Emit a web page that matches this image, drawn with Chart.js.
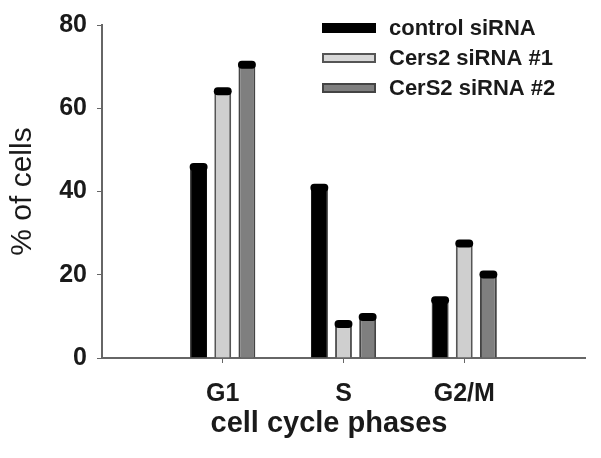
<!DOCTYPE html>
<html>
<head>
<meta charset="utf-8">
<script src="https://cdn.jsdelivr.net/npm/chart.js@4"></script>
<style>
  html, body { margin: 0; padding: 0; background: #fff; }
  #wrap { width: 601px; height: 458px; }
</style>
</head>
<body>
<div id="wrap"><canvas id="grafico"></canvas></div>
<script>
const phases = ["G1", "S", "G2/M"];
const controlSiRNA = [46, 41, 14];
const cers2SiRNA1 = [64.2, 8.3, 27.6];
const cers2SiRNA2 = [70.6, 10, 20.2];
const yTicks = [0, 20, 40, 60, 80];

const FONT = "Arial, 'Liberation Sans', sans-serif";

// empty slot at each end so the groups sit where the original puts them
const labels = ["", ...phases, ""];
const pad = arr => [null, ...arr, null];

// black caps on top of each bar
const caps = {
  id: "caps",
  afterDatasetsDraw(chart) {
    const ctx = chart.ctx;
    chart.data.datasets.forEach((ds, i) => {
      chart.getDatasetMeta(i).data.forEach((bar, j) => {
        if (ds.data[j] == null) return;
        const p = bar.getProps(["x", "y", "width"], true);
        ctx.save();
        ctx.fillStyle = "#000";
        ctx.beginPath();
        ctx.roundRect(p.x - p.width / 2 - 0.5, p.y - 3.5, p.width + 1, 8, 4);
        ctx.fill();
        ctx.restore();
      });
    });
  }
};

// legend in the top right corner + x axis title
const extras = {
  id: "extras",
  afterDraw(chart) {
    const ctx = chart.ctx;
    ctx.save();
    ctx.font = "bold 22px " + FONT;
    ctx.textBaseline = "middle";
    chart.data.datasets.forEach((ds, i) => {
      const yc = 28 + i * 30;
      ctx.fillStyle = ds.legendFill;
      ctx.fillRect(322, yc - 5, 54, 10);
      if (ds.borderColor !== "#000") {
        ctx.strokeStyle = ds.borderColor;
        ctx.lineWidth = 2;
        ctx.strokeRect(323, yc - 4, 52, 8);
      }
      ctx.fillStyle = "#1a1a1a";
      ctx.fillText(ds.label, 389, yc + 1);
    });
    ctx.font = "bold 29px " + FONT;
    ctx.textAlign = "center";
    ctx.textBaseline = "alphabetic";
    ctx.fillText("cell cycle phases", 329, 432);
    ctx.restore();
  }
};

const local = document.querySelector("#grafico");

new Chart(local, {
  type: "bar",
  data: {
    labels: labels,
    datasets: [
      {
        label: "control siRNA",
        data: pad(controlSiRNA),
        backgroundColor: "#000",
        borderColor: "#000",
        legendFill: "#000",
        borderWidth: 1
      },
      {
        label: "Cers2 siRNA #1",
        data: pad(cers2SiRNA1),
        backgroundColor: "#cfcfcf",
        borderColor: "#555",
        legendFill: "#d8d8d8",
        borderWidth: 2
      },
      {
        label: "CerS2 siRNA #2",
        data: pad(cers2SiRNA2),
        backgroundColor: "#7f7f7f",
        borderColor: "#444",
        legendFill: "#7f7f7f",
        borderWidth: 2
      }
    ]
  },
  options: {
    responsive: true,
    maintainAspectRatio: false,
    animation: false,
    layout: { padding: { top: 20, right: 6, left: 0, bottom: 0 } },
    datasets: {
      bar: { categoryPercentage: 0.6, barPercentage: 0.7, borderSkipped: "start" }
    },
    plugins: {
      legend: { display: false },
      tooltip: { enabled: false }
    },
    scales: {
      x: {
        offset: false,
        border: { color: "#666", width: 2 },
        grid: {
          drawOnChartArea: false,
          drawTicks: true,
          tickLength: 5,
          offset: false,
          color: c => (c.index === 0 || c.index === labels.length - 1) ? "rgba(0,0,0,0)" : "#666"
        },
        ticks: {
          color: "#1a1a1a",
          font: { family: FONT, size: 25, weight: "bold" },
          padding: 16,
          autoSkip: false,
          maxRotation: 0
        },
        afterFit: s => { s.height = 100; }
      },
      y: {
        min: 0,
        max: 80,
        border: { color: "#666", width: 2 },
        grid: { drawOnChartArea: false, drawTicks: true, tickLength: 5, color: "#666" },
        afterBuildTicks: s => { s.ticks = yTicks.map(v => ({ value: v })); },
        ticks: {
          color: "#1a1a1a",
          font: { family: FONT, size: 25, weight: "bold" },
          padding: 10
        },
        title: {
          display: true,
          text: "% of cells",
          color: "#1a1a1a",
          font: { family: FONT, size: 30 },
          padding: { top: 5, bottom: 0 }
        },
        afterFit: s => { s.width = 102; }
      }
    }
  },
  plugins: [caps, extras]
});
</script>
</body>
</html>
